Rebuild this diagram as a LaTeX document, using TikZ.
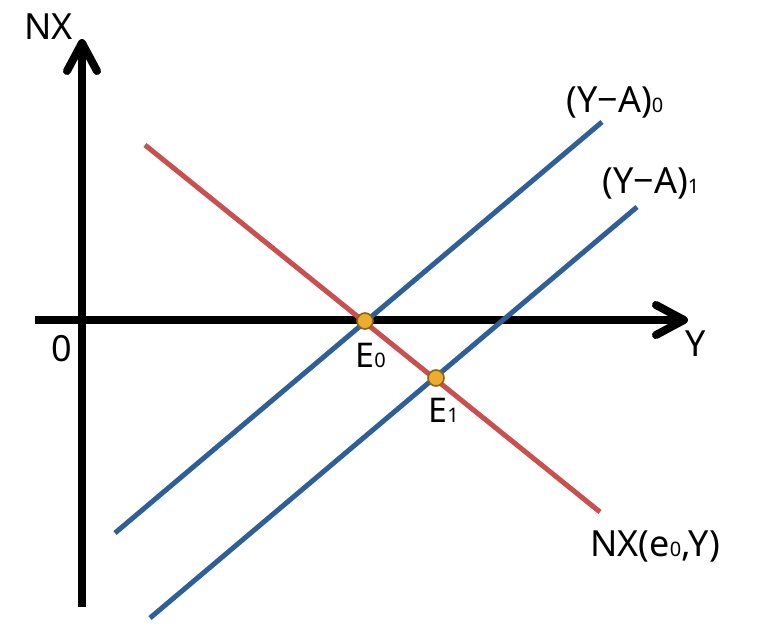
\documentclass[tikz,border=0pt]{standalone}
\usepackage{fontspec}
\setmainfont{Noto Sans}
\usepackage{tikz}
\usetikzlibrary{arrows.meta, positioning}
\usepackage{xcolor}
\definecolor{nxred}{HTML}{C9504F}
\definecolor{yablue}{HTML}{2F5F98}
\definecolor{eqfill}{HTML}{EDAC2E}
\definecolor{eqdraw}{HTML}{8A6516}
\newcommand{\idx}[1]{{\fontsize{10}{10}\selectfont #1}}

\begin{document}
\begin{tikzpicture}[
  x=0.5pt, y=-0.5pt,
  axis/.style={line width=4pt, -{Straight Barb[length=14pt, width=15pt, round]}},
  nxline/.style={line width=2.5pt, color=nxred},
  yaline/.style={line width=2.5pt, color=yablue},
  eqpt/.style={circle, draw=eqdraw, fill=eqfill, line width=0.8pt, minimum size=8pt, inner sep=0pt},
  lbl/.style={inner sep=0pt, anchor=base west, font=\fontsize{18}{18}\selectfont},
  eqlbl/.style={inner sep=0pt, anchor=base west, font=\fontsize{17}{17}\selectfont}
]
\useasboundingbox (0,0) rectangle (773,632);
% axes
\coordinate (xl) at (35,320);
\coordinate (xr) at (688,320);
\coordinate (yb) at (82,607);
\coordinate (yt) at (82,39);
% lines
\coordinate (nxs) at (145,145);
\coordinate (nxe) at (600,512);
\coordinate (ya0s) at (115,533);
\coordinate (ya0e) at (602,122);
\coordinate (ya1s) at (150,618);
\coordinate (ya1e) at (637,207);
\draw[axis] (xl) -- (xr);
\draw[axis] (yb) -- (yt);
\draw[nxline] (nxs) -- (nxe);
\draw[yaline] (ya0s) -- (ya0e);
\draw[yaline] (ya1s) -- (ya1e);
% equilibria
\node[eqpt] (e0) at (365,321) {};
\node[eqpt] (e1) at (436,378) {};
% labels
\node[lbl] (nxlbl) at (24,39) {NX};
\node[lbl] (olbl) at (51,361) {0};
\node[lbl] (ylbl) at (685,356) {Y};
\node[eqlbl] (e0lbl) at (355,367) {E\idx{0}};
\node[eqlbl] (e1lbl) at (428,422) {E\idx{1}};
\node[lbl] (ya0lbl) at (566,112) {(Y−A)\idx{0}};
\node[lbl] (ya1lbl) at (602,193) {(Y−A)\idx{1}};
\node[lbl] (nxelbl) at (590,556) {NX(e\idx{0},Y)};
\end{tikzpicture}
\end{document}
